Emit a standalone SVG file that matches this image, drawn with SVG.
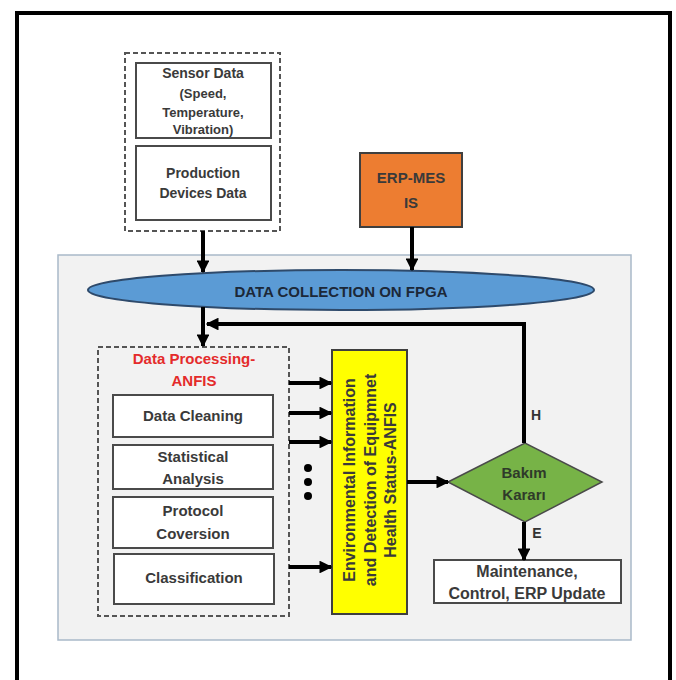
<svg xmlns="http://www.w3.org/2000/svg" width="676" height="680" viewBox="0 0 676 680">
<defs>
<style>
.t{font-family:"Liberation Sans",Arial,sans-serif;font-weight:bold;fill:#3a3a3a;text-anchor:middle;dominant-baseline:central}
.box{fill:#fff;stroke:#4a4a4a;stroke-width:2}
.dash{fill:none;stroke:#555;stroke-width:2;stroke-dasharray:5 3}
.ln{fill:none;stroke:#000;stroke-width:4}
</style>
<marker id="ah" viewBox="0 0 10 10" refX="9" refY="5" markerWidth="3.2" markerHeight="3.2" orient="auto" markerUnits="strokeWidth">
<path d="M0,0 L10,5 L0,10 z" fill="#000"/>
</marker>
</defs>
<rect x="0" y="0" width="676" height="680" fill="#fff"/>
<rect x="17" y="13" width="653" height="700" fill="#fff" stroke="#000" stroke-width="4"/>
<g id="panel"><rect x="58" y="255" width="573" height="385" fill="#f2f2f2" stroke="#a9b9c9" stroke-width="1.5"/></g>

<g id="sources">
<rect class="dash" x="125" y="53" width="155" height="178"/>
</g>
<g id="sensor">
<rect class="box" x="136" y="63" width="135" height="75"/>
<text class="t" font-size="14" x="203" y="73">Sensor Data</text>
<text class="t" font-size="13" x="203" y="93">(Speed,</text>
<text class="t" font-size="13" x="203" y="112">Temperature,</text>
<text class="t" font-size="13" x="203" y="129">Vibration)</text>
</g>
<g id="production">
<rect class="box" x="136" y="146" width="135" height="74"/>
<text class="t" font-size="14" x="203" y="173">Production</text>
<text class="t" font-size="14" x="203" y="193">Devices Data</text>
</g>
<g id="erp">
<rect x="360" y="153" width="102" height="74" fill="#ed7d31" stroke="#3f3f3f" stroke-width="2"/>
<text class="t" font-size="15" x="411" y="177">ERP-MES</text>
<text class="t" font-size="15" x="411" y="202">IS</text>
</g>
<g id="fpga">
<ellipse cx="341" cy="290" rx="253" ry="20" fill="#5b9bd5" stroke="#2e4a6b" stroke-width="2"/>
<text class="t" font-size="15" x="341" y="291" style="fill:#1c2838">DATA COLLECTION ON FPGA</text>
</g>

<g id="processing">
<rect class="dash" x="98" y="347" width="191" height="269"/>
<text class="t" font-size="15" x="194" y="358" style="fill:#e42b2b">Data Processing-</text>
<text class="t" font-size="15" x="194" y="380" style="fill:#e42b2b">ANFIS</text>
</g>
<g id="cleaning">
<rect class="box" x="113" y="395" width="160" height="42"/>
<text class="t" font-size="15" x="193" y="415">Data Cleaning</text>
</g>
<g id="statistical">
<rect class="box" x="113" y="445" width="160" height="44"/>
<text class="t" font-size="15" x="193" y="456">Statistical</text>
<text class="t" font-size="15" x="193" y="478">Analysis</text>
</g>
<g id="protocol">
<rect class="box" x="113" y="497" width="160" height="51"/>
<text class="t" font-size="15" x="193" y="510">Protocol</text>
<text class="t" font-size="15" x="193" y="533">Coversion</text>
</g>
<g id="classification">
<rect class="box" x="114" y="554" width="160" height="50"/>
<text class="t" font-size="15" x="194" y="577">Classification</text>
</g>
<g id="dots" fill="#000">
<circle cx="308" cy="468" r="4"/>
<circle cx="308" cy="482" r="4"/>
<circle cx="308" cy="496" r="4"/>
</g>
<g id="anfis">
<rect x="332" y="350" width="75" height="264" fill="#ffff00" stroke="#3f3f3f" stroke-width="2"/>
<g transform="translate(370,480) rotate(-90)">
<text class="t" font-size="16" x="0" y="-21">Environmental Information</text>
<text class="t" font-size="16" x="0" y="0">and Detection of Equipmnet</text>
<text class="t" font-size="16" x="0" y="20">Health Status-ANFIS</text>
</g>
</g>
<g id="decision">
<polygon points="448,482 525,443 602,482 525,522" fill="#77b347" stroke="#4a4a4a" stroke-width="1.5"/>
<text class="t" font-size="15" x="524" y="472" style="fill:#2f3a2a">Bakım</text>
<text class="t" font-size="15" x="524" y="494" style="fill:#2f3a2a">Kararı</text>
</g>
<g id="maintenance">
<rect class="box" x="434" y="560" width="187" height="43"/>
<text class="t" font-size="16" x="527" y="571">Maintenance,</text>
<text class="t" font-size="16" x="527" y="593">Control, ERP Update</text>
</g>

<g id="connectors">
<line class="ln" x1="203" y1="231" x2="203" y2="272" marker-end="url(#ah)"/>
<line class="ln" x1="412" y1="227" x2="412" y2="270" marker-end="url(#ah)"/>
<line class="ln" x1="203" y1="307" x2="203" y2="346" marker-end="url(#ah)"/>
<polyline class="ln" points="524,443 524,324 207,324" marker-end="url(#ah)"/>
<line class="ln" x1="289" y1="383" x2="331" y2="383" marker-end="url(#ah)"/>
<line class="ln" x1="289" y1="413" x2="331" y2="413" marker-end="url(#ah)"/>
<line class="ln" x1="289" y1="442" x2="331" y2="442" marker-end="url(#ah)"/>
<line class="ln" x1="289" y1="567" x2="331" y2="567" marker-end="url(#ah)"/>
<line class="ln" x1="407" y1="482" x2="448" y2="482" marker-end="url(#ah)"/>
<line class="ln" x1="524" y1="522" x2="524" y2="560" marker-end="url(#ah)"/>
<text class="t" font-size="14" x="536" y="415" style="fill:#333">H</text>
<text class="t" font-size="14" x="537" y="533" style="fill:#333">E</text>
</g>
</svg>
